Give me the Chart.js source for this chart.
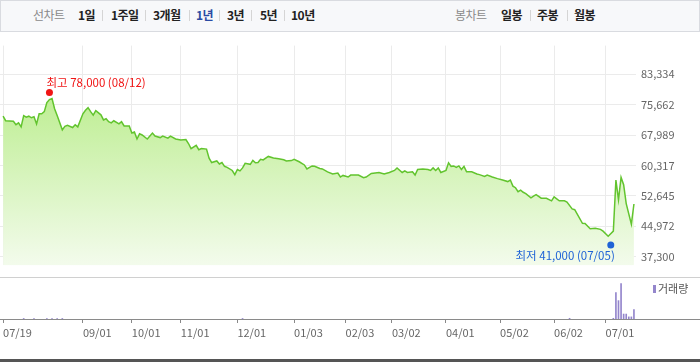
<!DOCTYPE html>
<html>
<head>
<meta charset="utf-8">
<script src="https://cdn.jsdelivr.net/npm/chart.js@4"></script>
<style>
  body { margin: 0; width: 700px; height: 362px; position: relative; background: #fff; overflow: hidden;
         font-family: 'Noto Sans CJK KR', 'Noto Sans', sans-serif; }
  #bar { position: absolute; left: 0; top: 0; width: 700px; height: 32px; box-sizing: border-box;
         border: 1px solid #d9dbe0; background: #f7f8fa; }
  #bar span { position: absolute; top: 6px; font-size: 12px; line-height: 16px; color: #222; font-weight: bold; white-space: nowrap; letter-spacing: -0.5px; }
  #bar span.g { color: #8a8a8a; font-weight: normal; }
  #bar span.on { color: #2a4ba3; }
  #bar i { position: absolute; top: 9px; width: 1px; height: 11px; background: #d5d5d5; }
  #main { position: absolute; left: 0; top: 34px; }
  #sep { position: absolute; left: 0; top: 277px; width: 700px; height: 1px; background: #d0d0d0; }
  #vol { position: absolute; left: 0; top: 278px; }
  #foot { position: absolute; left: 0; top: 359px; width: 700px; height: 3px; background: #555; }
</style>
</head>
<body>
<div id="bar">
  <span class="g" style="left:32px">선차트</span>
  <span style="left:77px">1일</span><i style="left:101px"></i>
  <span style="left:110px">1주일</span><i style="left:144px"></i>
  <span style="left:152px">3개월</span><i style="left:188px"></i>
  <span class="on" style="left:195px">1년</span><i style="left:218px"></i>
  <span style="left:226px">3년</span><i style="left:250px"></i>
  <span style="left:259px">5년</span><i style="left:283px"></i>
  <span style="left:290px">10년</span>
  <span class="g" style="left:454px">봉차트</span>
  <span style="left:500px">일봉</span><i style="left:529px"></i>
  <span style="left:536px">주봉</span><i style="left:566px"></i>
  <span style="left:573px">월봉</span>
</div>
<canvas id="main" width="700" height="243"></canvas>
<div id="sep"></div>
<canvas id="vol" width="700" height="81"></canvas>
<div id="foot"></div>

<script>
// 거래일 순번 (07/19 = 0) 과 종가
const days = [0,1,4,5,6,7,8,9,10,11,12,13,14,15,16,17,18,19,20,21,23,24,25,27,28,29,31,32,33,34,35,36,38,39,40,41,42,43,45,46,47,49,50,51,52,53,54,56,58,59,61,62,64,65,67,69,71,72,73,75,76,77,79,80,81,83,84,85,86,87,89,90,91,92,93,94,96,97,98,99,100,101,103,105,107,109,110,112,113,115,117,118,120,121,123,124,126,128,130,131,132,134,135,138,140,141,143,146,148,150,152,153,155,156,157,159,160,161,163,165,166,167,168,169,170,172,173,174,175,176,177,178,179,180,182,184,185,187,188,190,192,194,196,197,198,199,200,201,202,203,205,206,207,209,211,213,214,216,218,219,221,222,225,226,228,230,232,233,235,237,238,239,240,241,242,244,245];
const closes = [72750,71600,71450,70600,71050,70050,72900,72500,72750,72350,72600,70800,73350,73350,73900,76200,76950,77200,74650,72900,69300,70200,70450,69900,70600,70050,73350,74250,74900,73900,73000,74150,73100,71800,72100,71350,71050,71600,70800,71350,70300,70300,68500,68750,67000,68300,68000,67000,68500,67750,67350,67750,67200,67700,67000,66750,66850,65850,64550,65400,64300,64600,64450,62150,61050,61450,60700,61050,60100,59850,59050,58000,59300,58950,59700,60850,60600,61600,61000,61050,61850,61700,62600,62200,62000,61750,61450,61550,61850,61250,60450,59450,60200,60100,59550,59450,58700,58150,58400,57400,57800,57400,57900,57900,57250,57400,58300,58550,58150,58550,59050,59700,58550,58950,58550,58700,57900,59300,59450,59300,59050,59700,59050,59700,58550,59050,61000,60100,60200,59850,60200,59300,60100,58700,58700,58150,58000,57550,57900,57400,57000,56650,56250,56650,55100,54700,53700,54100,53550,53200,52150,52600,52950,52050,52050,51400,52400,51400,51400,51100,49350,49150,45700,45650,44350,44500,44200,43750,42450,43750,56650,51650,57300,55450,50700,45500,50600];

// 거래량 (상대 단위)
const volDays = [8,12,17,19,21,23,93,220,237,238,239,240,241,242,243,244,245];
const volumes = [1.5,1.5,1.5,1.5,1.5,1.5,1.5,2,2,75,52,100,14,14,6,6,27];

// 축 눈금
const tickDays = [0,31,50,69,91,113,133,151,172,193,214,234];
const tickLabels = ['07/19','09/01','10/01','11/01','12/01','01/03','02/03','03/02','04/01','05/02','06/02','07/01'];
const yTicks = [37300,44972,52645,60317,67989,75662,83334];

// 최고 / 최저
const highDay = 18, highPrice = 78000, highDate = '08/12';
const lowDay = 236, lowPrice = 41000, lowDate = '07/05';

const FONT = "'Noto Sans CJK KR', 'Noto Sans', sans-serif";
const X_MIN = -1.2, X_MAX = 245.8;

const marks = {
  id: 'marks',
  afterDatasetsDraw(chart) {
    const { ctx, scales: { x, y } } = chart;
    ctx.save();
    ctx.font = '11.5px ' + FONT;
    ctx.textBaseline = 'middle';

    let px = x.getPixelForValue(highDay), py = y.getPixelForValue(highPrice) - 3;
    ctx.fillStyle = '#f01515';
    ctx.beginPath(); ctx.arc(px, py, 3.5, 0, Math.PI * 2); ctx.fill();
    ctx.textAlign = 'left';
    ctx.fillText('최고 ' + highPrice.toLocaleString() + ' (' + highDate + ')', px - 3, py - 10);

    px = x.getPixelForValue(lowDay); py = y.getPixelForValue(lowPrice) + 3;
    ctx.fillStyle = '#1f63d6';
    ctx.beginPath(); ctx.arc(px, py, 3.5, 0, Math.PI * 2); ctx.fill();
    ctx.textAlign = 'right';
    ctx.fillText('최저 ' + lowPrice.toLocaleString() + ' (' + lowDate + ')', px + 4, py + 11);
    ctx.restore();
  }
};

new Chart(document.getElementById('main'), {
  type: 'line',
  data: {
    datasets: [{
      data: days.map((d, i) => ({ x: d, y: closes[i] })),
      borderColor: '#62c42e',
      borderWidth: 1.5,
      pointRadius: 0,
      tension: 0,
      fill: 'start',
      backgroundColor: (c) => {
        const a = c.chart.chartArea;
        if (!a) return null;
        const g = c.chart.ctx.createLinearGradient(0, a.top, 0, a.bottom);
        g.addColorStop(0, '#aeea78');
        g.addColorStop(1, '#f3fbec');
        return g;
      }
    }]
  },
  options: {
    responsive: false,
    animation: false,
    layout: { padding: { top: 2, bottom: 1, left: 0, right: 0 } },
    plugins: { legend: { display: false }, tooltip: { enabled: false } },
    scales: {
      x: {
        type: 'linear', min: X_MIN, max: X_MAX,
        afterBuildTicks: s => { s.ticks = tickDays.map(v => ({ value: v })); },
        ticks: { display: false },
        grid: { color: '#ebebeb', drawTicks: false },
        border: { display: false },
        afterFit: s => { s.height = 0; }
      },
      y: {
        position: 'right', min: 35100, max: 90560,
        afterBuildTicks: s => { s.ticks = yTicks.map(v => ({ value: v })); },
        ticks: { color: '#666', font: { size: 11, family: FONT }, padding: 5, callback: v => v.toLocaleString() },
        grid: { color: '#ebebeb', drawTicks: false },
        border: { display: false },
        afterFit: s => { s.width = 64; }
      }
    }
  },
  plugins: [marks]
});

const volExtras = {
  id: 'volExtras',
  afterDraw(chart) {
    const { ctx, chartArea } = chart;
    ctx.save();
    ctx.strokeStyle = '#8a8a8a';
    ctx.lineWidth = 1;
    ctx.beginPath();
    ctx.moveTo(0, chartArea.bottom + 0.5);
    ctx.lineTo(chart.width, chartArea.bottom + 0.5);
    ctx.stroke();
    ctx.fillStyle = '#9486cc';
    ctx.fillRect(653, 7, 3, 8);
    ctx.fillStyle = '#555';
    ctx.font = '11px ' + FONT;
    ctx.textBaseline = 'middle';
    ctx.textAlign = 'left';
    ctx.fillText('거래량', 658, 11);
    ctx.restore();
  }
};

new Chart(document.getElementById('vol'), {
  type: 'bar',
  data: {
    datasets: [{
      data: volDays.map((d, i) => ({ x: d, y: volumes[i] })),
      backgroundColor: '#9486cc',
      barThickness: 1
    }]
  },
  options: {
    responsive: false,
    animation: false,
    layout: { padding: 0 },
    plugins: { legend: { display: false }, tooltip: { enabled: false } },
    scales: {
      x: {
        type: 'linear', min: X_MIN, max: X_MAX, offset: false,
        afterBuildTicks: s => { s.ticks = tickDays.map(v => ({ value: v })); },
        ticks: { align: 'start', color: '#666', font: { size: 11, family: FONT }, padding: 3,
                 autoSkip: false, maxRotation: 0, callback: (v, i) => tickLabels[i] },
        grid: { drawOnChartArea: false, tickLength: 4, color: '#888', offset: false },
        border: { display: false },
        afterFit: s => { s.height = 40; }
      },
      y: {
        position: 'right', min: 0, max: 116,
        ticks: { display: false },
        grid: { display: false },
        border: { display: false },
        afterFit: s => { s.width = 64; }
      }
    }
  },
  plugins: [volExtras]
});
</script>
</body>
</html>
